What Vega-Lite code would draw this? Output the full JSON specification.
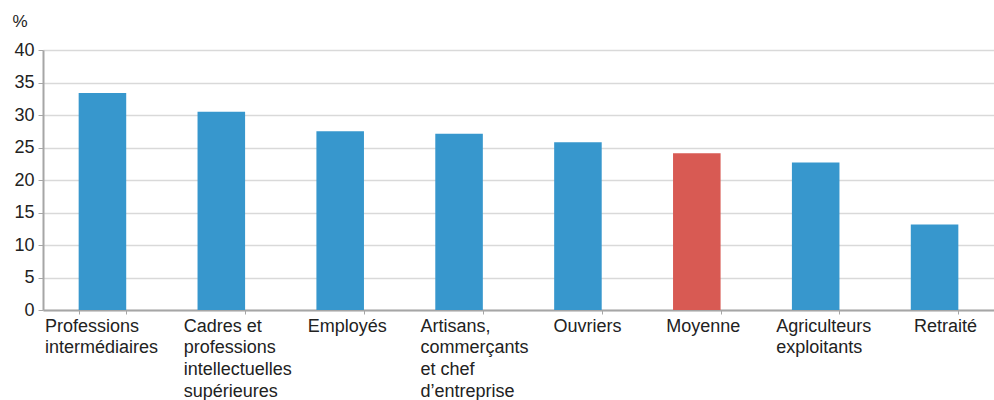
{
  "$schema": "https://vega.github.io/schema/vega-lite/v6.json",
  "autosize": "none",
  "width": 951,
  "height": 260,
  "padding": {"left": 43, "top": 50, "right": 0, "bottom": 90},
  "background": "white",
  "config": {
    "font": "Liberation Sans",
    "view": {"stroke": null}
  },
  "data": {
    "values": [
      {"categorie": "Professions intermédiaires", "valeur": 33.4, "type": "cat"},
      {"categorie": "Cadres et professions intellectuelles supérieures", "valeur": 30.5, "type": "cat"},
      {"categorie": "Employés", "valeur": 27.5, "type": "cat"},
      {"categorie": "Artisans, commerçants et chef d’entreprise", "valeur": 27.1, "type": "cat"},
      {"categorie": "Ouvriers", "valeur": 25.8, "type": "cat"},
      {"categorie": "Moyenne", "valeur": 24.1, "type": "moy"},
      {"categorie": "Agriculteurs exploitants", "valeur": 22.7, "type": "cat"},
      {"categorie": "Retraité", "valeur": 13.15, "type": "cat"}
    ]
  },
  "mark": {"type": "bar"},
  "encoding": {
    "x": {
      "field": "categorie",
      "type": "nominal",
      "sort": null,
      "scale": {"paddingInner": 0.6, "paddingOuter": 0.3},
      "axis": {
        "title": null,
        "labelAngle": 0,
        "labelAlign": "left",
        "labelFontSize": 18,
        "labelColor": "#222222",
        "labelLineHeight": 21.7,
        "labelPadding": 3,
        "labelOffset": {
          "condition": [
            {"test": "datum.value == 'Professions intermédiaires'", "value": -58},
            {"test": "datum.value == 'Cadres et professions intellectuelles supérieures'", "value": -38},
            {"test": "datum.value == 'Employés'", "value": -33},
            {"test": "datum.value == 'Artisans, commerçants et chef d’entreprise'", "value": -39},
            {"test": "datum.value == 'Ouvriers'", "value": -25},
            {"test": "datum.value == 'Moyenne'", "value": -31},
            {"test": "datum.value == 'Agriculteurs exploitants'", "value": -40}
          ],
          "value": -21
        },
        "labelBaseline": "top",
        "labelLimit": 200,
        "labelOverlap": false,
        "domainColor": "#a6a6a6",
        "domainWidth": 2,
        "tickBand": "extent",
        "tickColor": "#a6a6a6",
        "tickSize": 4,
        "tickWidth": 1,
        "grid": false,
        "labelExpr": "datum.label == 'Professions intermédiaires' ? ['Professions', 'intermédiaires'] : datum.label == 'Cadres et professions intellectuelles supérieures' ? ['Cadres et', 'professions', 'intellectuelles', 'supérieures'] : datum.label == 'Artisans, commerçants et chef d’entreprise' ? ['Artisans,', 'commerçants', 'et chef', 'd’entreprise'] : datum.label == 'Agriculteurs exploitants' ? ['Agriculteurs', 'exploitants'] : datum.label"
      }
    },
    "y": {
      "field": "valeur",
      "type": "quantitative",
      "scale": {"domain": [0, 40], "nice": false},
      "axis": {
        "title": "%",
        "titleAngle": 0,
        "titleFontSize": 17,
        "titleFontWeight": "normal",
        "titleColor": "#222222",
        "titleAlign": "left",
        "titleBaseline": "bottom",
        "titleX": -31,
        "titleY": -20,
        "values": [0, 5, 10, 15, 20, 25, 30, 35, 40],
        "labelFontSize": 18,
        "labelColor": "#222222",
        "labelPadding": 4,
        "labelOverlap": false,
        "labelFlush": false,
        "domainColor": "#a6a6a6",
        "domainWidth": 2,
        "tickColor": "#a6a6a6",
        "tickSize": 5,
        "tickWidth": 1,
        "gridColor": "#d9d9d9",
        "gridWidth": 1.5
      }
    },
    "color": {
      "field": "type",
      "type": "nominal",
      "scale": {"domain": ["cat", "moy"], "range": ["#3797cd", "#d85a53"]},
      "legend": null
    }
  }
}
